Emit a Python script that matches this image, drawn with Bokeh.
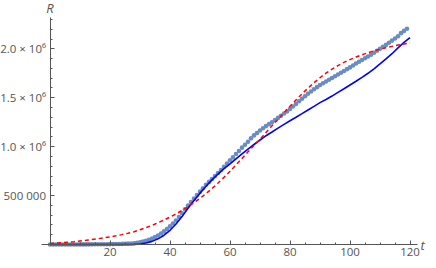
from bokeh.plotting import figure
from bokeh.models import Range1d, FixedTicker, Label
from bokeh.embed import file_html
from bokeh.resources import INLINE

# ---- data ----
obs_t = list(range(0, 120))
obs_R = [0, 0, 100, 200, 300, 400, 500, 600, 700, 800,
         900, 1000, 1200, 1400, 1600, 1800, 2000, 2300, 2600, 3000,
         3400, 3900, 4500, 5200, 6000, 7000, 8500, 10000, 13000, 17000,
         23000, 30000, 38000, 48000, 60000, 75000, 92000, 112000, 134000, 158000,
         185000, 214000, 246000, 280000, 320000, 360000, 398000, 435000, 470000, 505000,
         540000, 575000, 610000, 640000, 670000, 700000, 730000, 762000, 795000, 827000,
         860000, 890000, 925000, 955000, 990000, 1020000, 1050000, 1085000, 1115000, 1140000,
         1165000, 1188000, 1210000, 1230000, 1250000, 1272000, 1294000, 1316000, 1338000, 1360000,
         1385000, 1410000, 1437000, 1464000, 1490000, 1515000, 1540000, 1563000, 1586000, 1608000,
         1630000, 1648000, 1666000, 1684000, 1702000, 1720000, 1738000, 1756000, 1774000, 1792000,
         1810000, 1830000, 1850000, 1868000, 1886000, 1904000, 1922000, 1940000, 1960000, 1980000,
         2000000, 2020000, 2040000, 2062000, 2084000, 2106000, 2128000, 2160000, 2183000, 2205000]

model_t = list(range(0, 121, 2))
blue_R = [0, 0, 0, 0, 0, 0, 0, 0, 0, 0,
          0, 0, 0, 0, 1000, 5000, 15000, 32000, 58000, 95000,
          145000, 210000, 285000, 370000, 450000, 525000, 595000, 660000, 720000, 775000,
          825000, 875000, 925000, 975000, 1022000, 1068000, 1112000, 1150000, 1190000, 1228000,
          1265000, 1300000, 1337000, 1375000, 1412000, 1450000, 1482000, 1517000, 1555000, 1592000,
          1630000, 1668000, 1708000, 1750000, 1795000, 1845000, 1897000, 1950000, 2010000, 2065000,
          2115000]
red_R = [10000, 14000, 18000, 23000, 29000, 36000, 43000, 51000, 59000, 68000,
         78000, 89000, 101000, 115000, 131000, 150000, 172000, 196000, 222000, 250000,
         280000, 312000, 348000, 386000, 428000, 472000, 520000, 572000, 628000, 686000,
         748000, 813000, 880000, 947000, 1012000, 1075000, 1145000, 1213000, 1280000, 1346000,
         1412000, 1477000, 1539000, 1598000, 1653000, 1704000, 1751000, 1792000, 1829000, 1861000,
         1890000, 1916000, 1939000, 1960000, 1979000, 1996000, 2011000, 2025000, 2038000, 2050000,
         2061000]

x_major = [20, 40, 60, 80, 100, 120]
y_major = [500000, 1000000, 1500000, 2000000]
y_labels = ["500 000", "1.0 \u00d7 10\u2076", "1.5 \u00d7 10\u2076", "2.0 \u00d7 10\u2076"]

# ---- layout: frame fills the figure, axes cross at the origin ----
X0_PX, PX_PER_T = 49.5, 3.0
Y0_PX, YTOP_PX, Y_TOP = 244.0, 17.0, 2320000
W, H = 428, 258
py = (Y0_PX - YTOP_PX) / Y_TOP
x_lo = -X0_PX / PX_PER_T
x_hi = x_lo + W / PX_PER_T
y_hi = Y_TOP + YTOP_PX / py
y_lo = -(H - Y0_PX) / py

p = figure(output_backend="svg", toolbar_location=None,
           frame_width=W, frame_height=H,
           x_range=Range1d(x_lo, x_hi), y_range=Range1d(y_lo, y_hi),
           min_border_left=0, min_border_right=0, min_border_top=0, min_border_bottom=0,
           background_fill_color="white", border_fill_color="white")
p.outline_line_color = None
p.grid.visible = False

p.scatter(obs_t, obs_R, size=4.6, color="#6A8CC6", line_color=None)
p.line(model_t, blue_R, line_color="#0000FF", line_width=1.6)
p.line(model_t, red_R, line_color="#FF0000", line_width=1.5, line_dash="4 3")

axis_col = "#555555"
lab_col = "#555555"
for ax in (p.xaxis[0], p.yaxis[0]):
    ax.fixed_location = 0
    ax.axis_line_color = axis_col
    ax.major_tick_line_color = axis_col
    ax.minor_tick_line_color = axis_col
    ax.major_tick_in = 4
    ax.major_tick_out = 0
    ax.minor_tick_in = 2
    ax.minor_tick_out = 0
    ax.major_label_text_color = lab_col
    ax.major_label_text_font = "Open Sans"
    ax.major_label_text_font_size = "11.5px"

p.xaxis[0].bounds = (-2.8, 122.5)
p.yaxis[0].bounds = (0, Y_TOP)
p.xaxis[0].ticker = FixedTicker(ticks=x_major,
                                minor_ticks=[v for v in range(5, 121, 5) if v not in x_major])
p.yaxis[0].ticker = FixedTicker(ticks=y_major,
                                minor_ticks=[v for v in range(100000, 2300001, 100000) if v not in y_major])
p.yaxis[0].major_label_overrides = {v: s for v, s in zip(y_major, y_labels)}
p.xaxis[0].major_label_standoff = 3
p.yaxis[0].major_label_standoff = 4

p.add_layout(Label(x=0, y=Y_TOP, text="R", text_font="Open Sans", text_font_style="italic",
                   text_font_size="13px", text_color=lab_col, text_align="center",
                   text_baseline="bottom", y_offset=1))
p.add_layout(Label(x=122.5, y=0, text="t", text_font="Open Sans", text_font_style="italic",
                   text_font_size="13px", text_color=lab_col, text_align="left",
                   text_baseline="middle", x_offset=3))

open("out.html", "w").write(file_html(p, INLINE))
